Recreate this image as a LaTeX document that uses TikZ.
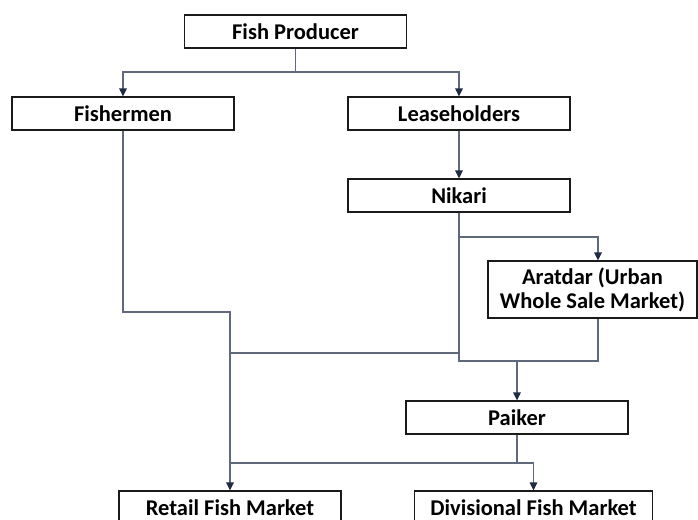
\documentclass[tikz,border=0pt]{standalone}
\usepackage{fontspec}
\setmainfont{Carlito}
\usetikzlibrary{arrows.meta}

\definecolor{linkgray}{HTML}{5E6A7C}
\definecolor{tipnavy}{HTML}{1F2B44}
\definecolor{boxline}{HTML}{1A1A1A}

\begin{document}
\begin{tikzpicture}[x=1pt,y=-1pt,
    box/.style={draw=boxline, line width=1.1pt, inner sep=0pt, align=center,
        minimum width=222, minimum height=33,
        font=\fontsize{22.5}{24}\selectfont\bfseries},
    link/.style={draw=linkgray, line width=1.6pt},
    arr/.style={link, -{Triangle[length=8pt,width=7.5pt,color=tipnavy]}}]
    \useasboundingbox (0,0) rectangle (698,519);
    \clip (0,0) rectangle (698,519);

    % boxes
    \node[box] (prod) at (295.5,31.5) {Fish Producer};
    \node[box] (fish) at (123,113.5) {Fishermen};
    \node[box] (lease) at (459,113.5) {Leaseholders};
    \node[box] (nik) at (459,195.5) {Nikari};
    \node[box, minimum width=209, minimum height=57] (arat) at (592.5,289.5) {Aratdar (Urban\\Whole Sale Market)};
    \node[box] (paik) at (517,417.5) {Paiker};
    \node[box] (retail) at (230,507.5) {Retail Fish Market};
    \node[box, minimum width=238] (div) at (533.5,507.5) {Divisional Fish Market};

    % bends and joins
    \coordinate (psplit) at (295.5,72);
    \coordinate (acol) at (598,0);
    \coordinate (nsplit) at (459,237);
    \coordinate (njoin) at (459,361);
    \coordinate (pjoin) at (517,361);
    \coordinate (fbend) at (230,312);
    \coordinate (mjoin) at (459,353);
    \coordinate (ksplit) at (517,463);

    % lines
    \draw[link] (prod) -- (psplit);
    \draw[arr] (psplit) -| (fish);
    \draw[arr] (psplit) -| (lease);
    \draw[arr] (lease) -- (nik);
    \draw[arr] (nsplit) -| (arat.north -| acol);
    \draw[link] (nik) -- (njoin) -| (arat.south -| acol);
    \draw[arr] (pjoin) -- (paik);
    \draw[arr] (fish) |- (fbend) -- (retail);
    \draw[link] (mjoin) -- (fbend |- mjoin);
    \draw[link] (paik) -- (ksplit);
    \draw[link] (ksplit) -- (fbend |- ksplit);
    \draw[arr] (ksplit) -| (div);
\end{tikzpicture}
\end{document}
